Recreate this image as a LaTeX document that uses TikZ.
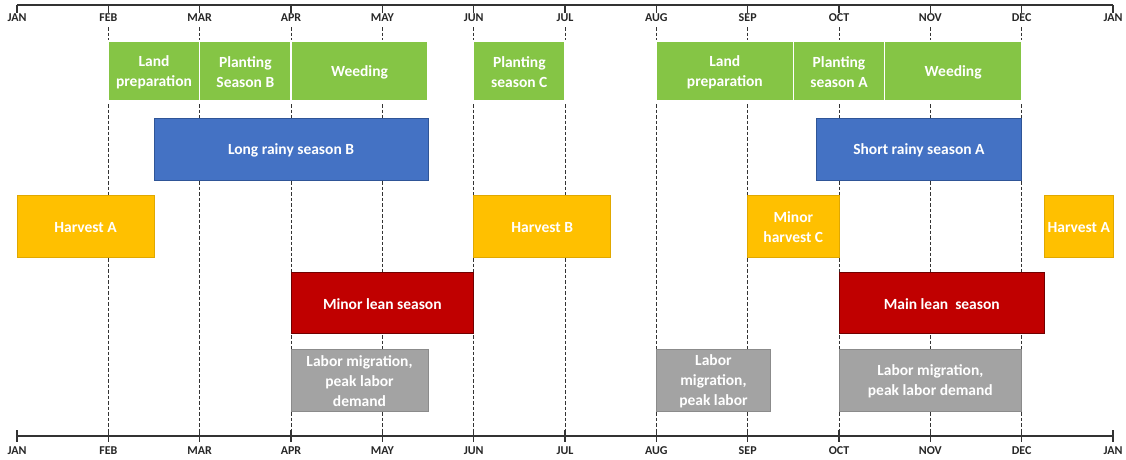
\documentclass[tikz,border=0pt]{standalone}
\usepackage{fontspec}
\setmainfont{Carlito}
\usetikzlibrary{fit}
\definecolor{cgreen}{HTML}{85C545}
\definecolor{cblue}{HTML}{4472C4}
\definecolor{cblueb}{HTML}{2F5597}
\definecolor{cyellow}{HTML}{FFC000}
\definecolor{cyellowb}{HTML}{E0A800}
\definecolor{cred}{HTML}{C00000}
\definecolor{credb}{HTML}{700000}
\definecolor{cgray}{HTML}{A3A3A3}
\definecolor{cdash}{HTML}{333333}
\tikzset{
  bx/.style={inner sep=0pt},
  greenbox/.style={bx, fill=cgreen, draw=white, line width=1.6pt},
  bluebox/.style={bx, fill=cblue, draw=cblueb, line width=0.8pt},
  yellowbox/.style={bx, fill=cyellow, draw=cyellowb, line width=0.5pt},
  redbox/.style={bx, fill=cred, draw=credb, line width=1pt},
  graybox/.style={bx, fill=cgray, draw=cgray!85!black, line width=0.4pt},
  boxtext/.style={inner sep=0pt, align=center, text=white, yshift=-1.5pt,
    font=\fontsize{15.5}{20}\selectfont\bfseries},
  monthlbl/.style={font=\fontsize{12}{14}\selectfont\bfseries, text=black!85, inner sep=0pt},
  monthline/.style={draw=cdash, line width=0.9pt, dash pattern=on 3.5pt off 2pt},
  axisline/.style={draw=black!80, line width=1.3pt},
}
\begin{document}
\begin{tikzpicture}[x=91.333pt,y=-1pt]
\useasboundingbox (-17pt,0pt) rectangle (1109pt,-459pt);
% month coordinates
\foreach \m/\name in {0/JAN,1/FEB,2/MAR,3/APR,4/MAY,5/JUN,6/JUL,7/AUG,8/SEP,9/OCT,10/NOV,11/DEC,12/JANb}{
  \coordinate (t\name) at (\m,5);
  \coordinate (b\name) at (\m,436);
}
% dashed month lines
\foreach \name in {FEB,MAR,APR,MAY,JUN,JUL,AUG,SEP,OCT,NOV,DEC}{
  \coordinate (dt\name) at ([yshift=-22pt]t\name);
  \coordinate (db\name) at ([yshift=6pt]b\name);
  \draw[monthline] (dt\name) -- (db\name);
}
% axes
\draw[axisline] (tJAN) -- (tJANb);
\draw[axisline] (bJAN) -- (bJANb);
\foreach \name/\txt in {JAN/JAN,FEB/FEB,MAR/MAR,APR/APR,MAY/MAY,JUN/JUN,JUL/JUL,AUG/AUG,SEP/SEP,OCT/OCT,NOV/NOV,DEC/DEC,JANb/JAN}{
  \draw[axisline] (t\name) -- ([yshift=-8pt]t\name);
  \draw[axisline] ([yshift=6pt]b\name) -- ([yshift=-6pt]b\name);
  \node[monthlbl] (lt\name) at ([yshift=-13pt]t\name) {\txt};
  \node[monthlbl] (lb\name) at ([yshift=-15pt]b\name) {\txt};
}
% row 1: green
\node[greenbox, fit={(1,41) (2,101)}] (lp1) {};
\node[boxtext] (lp1t) at (lp1.center) {Land\\preparation};
\node[greenbox, fit={(2,41) (3,101)}] (psB) {};
\node[boxtext] (psBt) at (psB.center) {Planting\\Season B};
\node[greenbox, fit={(3,41) (4.5,101)}] (wd1) {};
\node[boxtext] (wd1t) at (wd1.center) {Weeding};
\node[greenbox, fit={(5,41) (6,101)}] (psC) {};
\node[boxtext] (psCt) at (psC.center) {Planting\\season C};
\node[greenbox, fit={(7,41) (8.5,101)}] (lp2) {};
\node[boxtext] (lp2t) at (lp2.center) {Land\\preparation};
\node[greenbox, fit={(8.5,41) (9.5,101)}] (psA) {};
\node[boxtext] (psAt) at (psA.center) {Planting\\season A};
\node[greenbox, fit={(9.5,41) (11,101)}] (wd2) {};
\node[boxtext] (wd2t) at (wd2.center) {Weeding};
% row 2: blue
\node[bluebox, fit={(1.5,118) (4.5,180)}] (lrB) {};
\node[boxtext] (lrBt) at (lrB.center) {Long rainy season B};
\node[bluebox, fit={(8.75,118) (11,180)}] (srA) {};
\node[boxtext] (srAt) at (srA.center) {Short rainy season A};
% row 3: yellow
\node[yellowbox, fit={(0,195) (1.5,257)}] (hA1) {};
\node[boxtext] (hA1t) at (hA1.center) {Harvest A};
\node[yellowbox, fit={(5,195) (6.5,257)}] (hB) {};
\node[boxtext] (hBt) at (hB.center) {Harvest B};
\node[yellowbox, fit={(8,195) (9,257)}] (mhC) {};
\node[boxtext] (mhCt) at (mhC.center) {Minor\\harvest C};
\node[yellowbox, fit={(11.25,195) (12,257)}] (hA2) {};
\node[boxtext] (hA2t) at (hA2.center) {Harvest A};
% row 4: red
\node[redbox, fit={(3,272) (5,333)}] (mls) {};
\node[boxtext] (mlst) at (mls.center) {Minor lean season};
\node[redbox, fit={(9,272) (11.25,333)}] (mainls) {};
\node[boxtext] (mainlst) at (mainls.center) {Main lean\ \ season};
% row 5: gray
\node[graybox, fit={(3,349) (4.5,411)}] (lm1) {};
\node[boxtext] (lm1t) at (lm1.center) {Labor migration,\\peak labor\\demand};
\node[graybox, fit={(7,349) (8.25,411)}] (lm2) {};
\node[boxtext] (lm2t) at (lm2.center) {Labor\\migration,\\peak labor};
\node[graybox, fit={(9,349) (11,411)}] (lm3) {};
\node[boxtext] (lm3t) at (lm3.center) {Labor migration,\\peak labor demand};
\end{tikzpicture}
\end{document}
